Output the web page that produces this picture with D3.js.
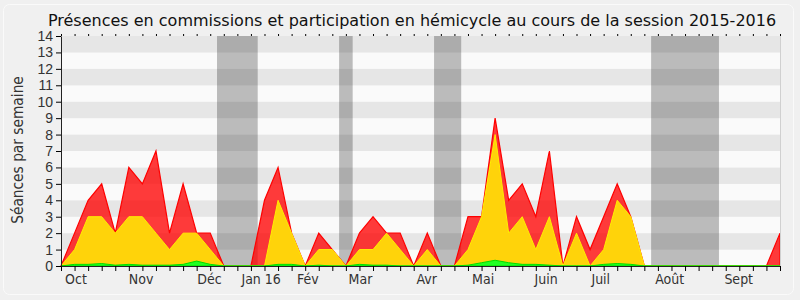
<!DOCTYPE html>
<html>
<head>
<meta charset="utf-8">
<script src="https://cdn.jsdelivr.net/npm/d3@7"></script>
<style>
  body { margin: 0; background: #f0f0f0; }
  svg { display: block; font-family: "DejaVu Sans Condensed", "DejaVu Sans", sans-serif; font-stretch: condensed; }
  .axis text { font-size: 14px; fill: #333; }
  .title { font-family: "DejaVu Sans", sans-serif; font-stretch: normal; }
</style>
</head>
<body>
<svg id="graph" width="800" height="300"></svg>
<script>
// weekly values, session 2015-2016 (54 weeks)
const weeks = d3.range(54);
const presence_total = [0, 2, 4, 5, 2, 6, 5, 7, 2, 5, 2, 2, 0, 0, 0, 4, 6, 2, 0, 2, 1, 0, 2, 3, 2, 2, 0,
  2, 0, 0, 3, 3, 9, 4, 5, 3, 7, 0, 3, 1, 3, 5, 3, 0, 0, 0, 0, 0, 0, 0, 0, 0, 0, 2];
const commissions = [0, 1, 3, 3, 2, 3, 3, 2, 1, 2, 2, 1, 0, 0, 0, 0, 4, 2, 0, 1, 1, 0, 1, 1, 2, 1, 0,
  1, 0, 0, 1, 3, 8, 2, 3, 1, 3, 0, 2, 0, 1, 4, 3, 0, 0, 0, 0, 0, 0, 0, 0, 0, 0, 0];
const hemicycle = [0, 0.1, 0.1, 0.15, 0.05, 0.1, 0.05, 0.05, 0.05, 0.1, 0.3, 0.1, 0, 0, 0, 0, 0.1, 0.1, 0, 0.05, 0, 0, 0.1, 0.05, 0.05, 0, 0,
  0, 0, 0, 0.05, 0.2, 0.35, 0.2, 0.1, 0.1, 0.05, 0, 0, 0, 0.1, 0.15, 0.1, 0, 0, 0, 0, 0, 0, 0, 0, 0, 0, 0];
const holidays = [[11.5, 14.5], [20.5, 21.5], [27.5, 29.5], [43.5, 48.5]];
const month_labels = ["Oct", "Nov", "Déc", "Jan 16", "Fév", "Mar", "Avr", "Mai", "Juin", "Juil", "Août", "Sept"];
const month_weeks = [0.3, 5.0, 10.05, 13.3, 17.4, 21.2, 26.2, 30.3, 34.9, 39.1, 43.8, 48.9];
const y_ticks = d3.range(15);

const svg = d3.select("#graph");
const margin = { left: 61, right: 20, top: 36, bottom: 34 };
const width = 800, height = 300;

// frame
svg.append("rect")
  .attr("x", 3.5).attr("y", 4.5).attr("width", 790).attr("height", 290)
  .attr("rx", 6).attr("fill", "#f0f0f0").attr("stroke", "#fafafa");

const x = d3.scaleLinear().domain([0, 53]).range([margin.left, width - margin.right]);
const y = d3.scaleLinear().domain([0, 14]).range([height - margin.bottom, margin.top]);

// stripes
svg.append("g").selectAll("rect")
  .data(d3.range(14))
  .join("rect")
  .attr("x", x(0)).attr("width", x(53) - x(0))
  .attr("y", (d) => y(d + 1)).attr("height", (d) => y(d) - y(d + 1))
  .attr("fill", (d) => (d % 2 ? "#e6e6e6" : "#fafafa"));

// holidays
svg.append("g").selectAll("rect")
  .data(holidays)
  .join("rect")
  .attr("x", (d) => x(d[0])).attr("width", (d) => x(d[1]) - x(d[0]))
  .attr("y", y(14)).attr("height", y(0) - y(14))
  .attr("fill", "#000").attr("fill-opacity", 0.25);

// series
function area_of(values) {
  return d3.area().x((d, i) => x(i)).y0(y(0)).y1((d) => y(d))(values);
}
svg.append("path").attr("d", area_of(presence_total))
  .attr("fill", "#ff0000").attr("fill-opacity", 0.77)
  .attr("stroke", "#ff0000").attr("stroke-width", 1.2);
svg.append("path").attr("d", area_of(commissions))
  .attr("fill", "#ffd30a")
  .attr("stroke", "#ffee00").attr("stroke-width", 1);
svg.append("path").attr("d", area_of(hemicycle))
  .attr("fill", "#22ff22")
  .attr("stroke", "#00dd00").attr("stroke-width", 1);

// right border
svg.append("line")
  .attr("x1", x(53) + 0.5).attr("x2", x(53) + 0.5)
  .attr("y1", y(14)).attr("y2", y(0))
  .attr("stroke", "#d0d0d0");

// x axis
const x_axis = svg.append("g")
  .attr("class", "axis")
  .attr("transform", `translate(0, ${y(0)})`)
  .call(d3.axisBottom(x).tickValues(weeks).tickFormat("").tickSize(5).tickSizeOuter(0));
x_axis.select(".domain").attr("stroke", "#222");

svg.append("g")
  .attr("transform", `translate(0, ${y(14)})`)
  .call(d3.axisTop(x).tickValues(weeks).tickFormat("").tickSize(2).tickSizeOuter(0))
  .call((g) => g.select(".domain").remove());

svg.append("g").attr("class", "axis")
  .selectAll("text")
  .data(month_labels)
  .join("text")
  .attr("x", (d, i) => x(month_weeks[i]))
  .attr("y", 284)
  .attr("font-size", 14.5)
  .text((d) => d);

// y axis
const y_axis = svg.append("g")
  .attr("class", "axis")
  .attr("transform", `translate(${x(0)}, 0)`)
  .call(d3.axisLeft(y).tickValues(y_ticks).tickSize(5).tickSizeOuter(0).tickPadding(3));
y_axis.select(".domain").attr("stroke", "#222");

svg.append("text")
  .attr("transform", "translate(23, 150) rotate(-90)")
  .attr("text-anchor", "middle")
  .attr("font-size", 15.3)
  .attr("fill", "#333")
  .text("Séances par semaine");

// title
svg.append("text")
  .attr("class", "title")
  .attr("x", 412).attr("y", 26)
  .attr("text-anchor", "middle")
  .attr("font-size", 16)
  .attr("fill", "#111")
  .text("Présences en commissions et participation en hémicycle au cours de la session 2015-2016");
</script>
</body>
</html>
